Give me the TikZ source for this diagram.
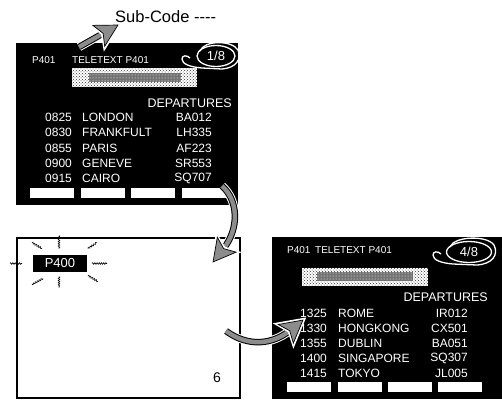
\documentclass[tikz,border=0pt]{standalone}
\usepackage{fontspec}
\setmainfont{Liberation Sans}
\usetikzlibrary{positioning,shapes.geometric,patterns,decorations.pathmorphing,decorations.markings}
\newcommand{\hatchhead}{%
  \filldraw[white, line width=2.6pt, shorten >=0pt] (1.5pt,0) -- (-23pt,13.5pt) -- (-18pt,0) -- (-23pt,-13.5pt) -- cycle;
  \filldraw[fill=black!45, draw=black, line width=0.7pt, shorten >=0pt] (0,0) -- (-22pt,12pt) -- (-17pt,0) -- (-22pt,-12pt) -- cycle;}
\tikzset{
  screen/.style={fill=black, inner sep=0pt},
  blank/.style={draw, line width=1.4pt, fill=white, inner sep=0pt},
  row/.style={text=white, font=\fontsize{12}{14}\selectfont, inner sep=0pt},
  hdr/.style={row, font=\fontsize{10}{12}\selectfont},
  key/.style={fill=white, minimum width=44pt, minimum height=10pt, inner sep=0pt},
  banner/.style={fill=white, postaction={pattern=crosshatch dots, pattern color=black!80}, inner sep=0pt},
  garble/.style={fill=black!55, postaction={pattern=dots, pattern color=white}, inner sep=0pt},
  subno/.style={ellipse, fill=black, draw=white, line width=1.3pt, text=white,
    font=\fontsize{13}{15}\selectfont, inner sep=0pt},
  lasso/.style={white, line width=1.3pt},
  spark/.style={decorate, decoration={snake, amplitude=0.8pt, segment length=2.2pt}, line width=0.6pt},
  hatch/.style={draw=black!45, line width=4.5pt, shorten >=16pt,
    preaction={draw=white, line width=8.5pt, shorten >=16pt},
    preaction={draw=black, line width=6.5pt, shorten >=16pt},
    postaction={decorate, decoration={markings, mark=at position 0.999 with {\hatchhead}}}},
}
\begin{document}
\begin{tikzpicture}[x=1pt, y=-1pt]
  \useasboundingbox (0,0) rectangle (502,399);
  % first page, sub-code 1/8
  \node[screen, minimum width=222pt, minimum height=162pt] (scrA) at (127,124) {};
  \node[hdr, anchor=west] (hda1) at (32,60) {P401};
  \node[hdr, anchor=west] (hda2) at (72,60) {TELETEXT P401};
  \node[subno, minimum width=38pt, minimum height=21pt] (sub1) at (216,56) {1/8};
  \begin{scope}[shift={(sub1.center)}]
    \draw[lasso] (-16,-5) .. controls (-12,-16) and (16,-16) .. (22,-6)
      .. controls (26,3) and (20,12) .. (6,13) -- (-14,12)
      .. controls (-26,11) and (-34,8) .. (-34,3) .. controls (-34,-1) and (-29,-1) .. (-26,2);
  \end{scope}
  \node[banner, minimum width=125pt, minimum height=19pt] (bana) at (134.5,77.5) {};
  \node[garble, minimum width=92pt, minimum height=9pt] at (bana) {};
  \node[row, anchor=east, font=\fontsize{12.5}{14}\selectfont] (depa) at (232,103) {DEPARTURES};
  \node[row, anchor=west] (ta1) at (45,117) {0825}; \node[row, anchor=west] (ca1) at (82,117) {LONDON};    \node[row, anchor=east] (fa1) at (212,117) {BA012};
  \node[row, anchor=west] (ta2) at (45,132) {0830}; \node[row, anchor=west] (ca2) at (82,132) {FRANKFULT}; \node[row, anchor=east] (fa2) at (212,132) {LH335};
  \node[row, anchor=west] (ta3) at (45,148) {0855}; \node[row, anchor=west] (ca3) at (82,148) {PARIS};     \node[row, anchor=east] (fa3) at (212,148) {AF223};
  \node[row, anchor=west] (ta4) at (45,163) {0900}; \node[row, anchor=west] (ca4) at (82,163) {GENEVE};    \node[row, anchor=east] (fa4) at (212,163) {SR553};
  \node[row, anchor=west] (ta5) at (45,178) {0915}; \node[row, anchor=west] (ca5) at (82,178) {CAIRO};     \node[row, anchor=east] (fa5) at (212,178) {SQ707};
  \node[key] (ka1) at (52,193) {};
  \node[key] (ka2) at (103,193) {};
  \node[key] (ka3) at (153,193) {};
  \node[key] (ka4) at (204,193) {};
  \node[anchor=west, inner sep=0pt, font=\fontsize{16.5}{18}\selectfont] (subcode) at (115,17) {Sub-Code -{}-{}-{}-};
  % page number entered
  \node[blank, minimum width=223pt, minimum height=160pt] (scrB) at (128.5,318) {};
  \node[fill=black, text=white, inner sep=0pt, minimum width=54pt, minimum height=17pt,
    font=\fontsize{13}{15}\selectfont] (p400) at (60,263.5) {P400};
  \begin{scope}[shift={(p400.center)}]
    \draw[spark] (-50,0) -- (-38,0);
    \draw[spark] (32,0) -- (47,0);
    \draw[spark] (-1,-28) -- (-1,-15);
    \draw[spark] (-1,13) -- (-1,24);
    \draw[spark] (-28,-21) -- (-18,-15);
    \draw[spark] (28,-15) -- (37,-21);
    \draw[spark] (-17,15) -- (-28,21);
    \draw[spark] (28,12) -- (38,18);
  \end{scope}
  \node[inner sep=0pt, font=\fontsize{14}{16}\selectfont] (pgno) at (217,378) {6};
  % fourth page, sub-code 4/8
  \node[screen, minimum width=230pt, minimum height=162pt] (scrC) at (387,318) {};
  \node[hdr, anchor=west] (hdc1) at (287,250) {P401};
  \node[hdr, anchor=west] (hdc2) at (315,250) {TELETEXT P401};
  \node[subno, minimum width=45pt, minimum height=21pt] (sub4) at (469,252) {4/8};
  \begin{scope}[shift={(sub4.center)}]
    \draw[lasso] (-19,-5) .. controls (-15,-16) and (18,-17) .. (25,-7)
      .. controls (30,3) and (23,12) .. (8,13) -- (-16,12)
      .. controls (-28,11) and (-36,8) .. (-36,3) .. controls (-36,-1) and (-31,-1) .. (-28,2);
  \end{scope}
  \node[banner, minimum width=126pt, minimum height=18pt] (banc) at (365,276.5) {};
  \node[garble, minimum width=96pt, minimum height=9pt] at (banc) {};
  \node[row, anchor=east, font=\fontsize{12.5}{14}\selectfont] (depc) at (488,297) {DEPARTURES};
  \node[row, anchor=west] (tc1) at (300,313) {1325}; \node[row, anchor=west] (cc1) at (338,313) {ROME};      \node[row, anchor=east] (fc1) at (468,313) {IR012};
  \node[row, anchor=west] (tc2) at (300,328) {1330}; \node[row, anchor=west] (cc2) at (338,328) {HONGKONG};  \node[row, anchor=east] (fc2) at (468,328) {CX501};
  \node[row, anchor=west] (tc3) at (300,343) {1355}; \node[row, anchor=west] (cc3) at (338,343) {DUBLIN};    \node[row, anchor=east] (fc3) at (468,343) {BA051};
  \node[row, anchor=west] (tc4) at (300,358) {1400}; \node[row, anchor=west] (cc4) at (338,358) {SINGAPORE}; \node[row, anchor=east] (fc4) at (468,358) {SQ307};
  \node[row, anchor=west] (tc5) at (300,373) {1415}; \node[row, anchor=west] (cc5) at (338,373) {TOKYO};     \node[row, anchor=east] (fc5) at (468,373) {JL005};
  \node[key] (kc1) at (308.5,387) {};
  \node[key] (kc2) at (359.5,387) {};
  \node[key] (kc3) at (409.5,387) {};
  \node[key] (kc4) at (460,387) {};
  % hatched arrows
  \coordinate (subfoot) at (79,47);
  \coordinate (subtip) at (118,25);
  \coordinate (afoot) at (222,186);
  \coordinate (btip) at (213,262);
  \coordinate (bfoot) at (226,331);
  \coordinate (ctip) at (303,320);
  \draw[hatch] (subfoot) -- (subtip);
  \draw[hatch] (afoot) .. controls (238,200) and (240,228) .. (btip);
  \draw[hatch] (bfoot) .. controls (248,347) and (272,345) .. (ctip);
\end{tikzpicture}
\end{document}
